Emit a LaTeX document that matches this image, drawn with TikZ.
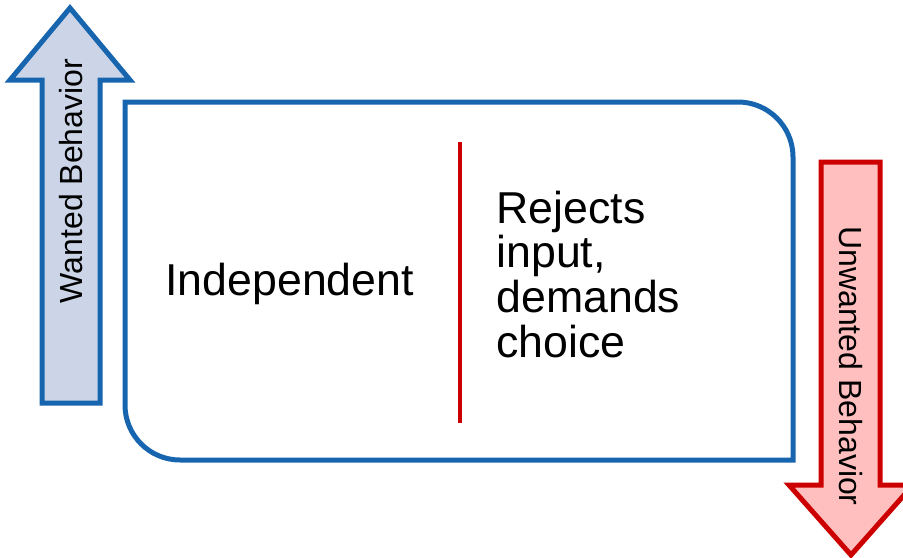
\documentclass[tikz,border=0pt]{standalone}
\usepackage{fontspec}
\setmainfont{Liberation Sans}
\definecolor{wantblue}{RGB}{23,101,174}
\definecolor{wantfill}{RGB}{203,213,231}
\definecolor{unwantred}{RGB}{204,0,0}
\definecolor{unwantfill}{RGB}{255,191,191}
\tikzset{every picture/.style={line width=0.75pt}}
\tikzset{
  bigtext/.style={inner sep=0pt, font=\fontsize{33.5}{33.5}\selectfont},
  sidetext/.style={inner sep=0pt, font=\fontsize{24}{24}\selectfont}
}

\begin{document}
\begin{tikzpicture}[x=0.75pt,y=0.75pt,yscale=-1,xscale=1]
        \useasboundingbox (0,0) rectangle (903,557);

        %Up Arrow [wanted]
        \draw [color=wantblue, fill=wantfill, line width=3.75, line join=miter] (70,8) -- (130,80) -- (100,80) -- (100,403) -- (42,403) -- (42,80) -- (10,80) -- cycle ;
        %Down Arrow [unwanted]
        \draw [color=unwantred, fill=unwantfill, line width=3.75, line join=miter] (821,162) -- (880,162) -- (880,485) -- (913,485) -- (851,555) -- (789,485) -- (821,485) -- cycle ;
        %Shape: Box with two round corners
        \draw [color=wantblue, line width=3.75] (125,102) -- (738,102) arc[start angle=-90, end angle=0, radius=55] -- (793,460) -- (180,460) arc[start angle=90, end angle=180, radius=55] -- cycle ;
        %Straight Lines [divider]
        \draw [color=unwantred, line width=3] (460,142) -- (460,423) ;

        % Text Node
        \node [sidetext, rotate=90] (wanted) at (71,181) {Wanted Behavior};
        % Text Node
        \node [sidetext, rotate=-90] (unwanted) at (851,366) {Unwanted Behavior};
        % Text Node
        \node [bigtext, anchor=base west] (indep) at (165,295) {Independent};
        % Text Node
        \node [bigtext, anchor=base west, align=left] (rejects) at (496,357) {Rejects\\input,\\demands\\choice};

    \end{tikzpicture}
\end{document}
